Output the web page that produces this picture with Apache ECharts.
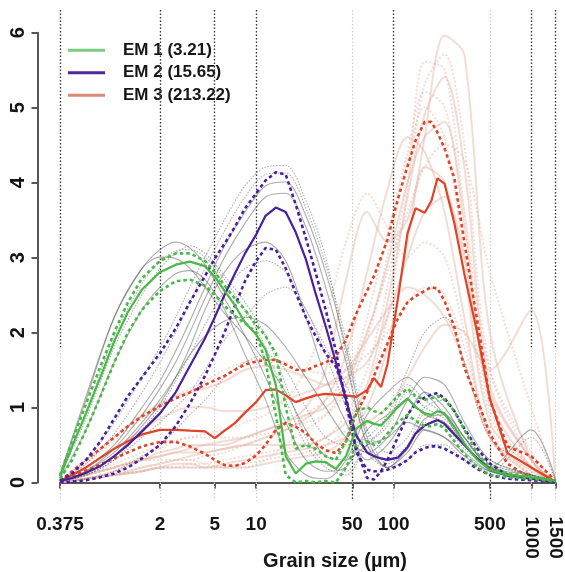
<!DOCTYPE html>
<html><head><meta charset="utf-8">
<script src="https://cdn.jsdelivr.net/npm/echarts@6/dist/echarts.min.js"></script>
<style>html,body{margin:0;padding:0;background:#fff}#c{width:565px;height:572px}</style>
</head><body><div id="c"></div>
<script>
// grain-size classes (µm) for the end-member curves
const sizes = [0.375, 0.46, 0.58, 0.74, 0.93, 1.17, 1.48, 2, 2.6, 3.3, 4.25, 5, 5.9, 7, 8.3, 10, 11.7, 13.9, 16.4, 19.4, 23, 27, 32, 38, 45, 53.5, 64, 72, 81, 90, 107, 126, 144, 168, 188, 208, 234, 276, 326, 405, 500, 672, 1000, 1500];
const em1   = [0.08, 0.48, 0.92, 1.41, 1.88, 2.27, 2.57, 2.8, 2.9, 2.94, 2.88, 2.74, 2.55, 2.36, 2.13, 1.97, 1.77, 1.3, 0.35, 0.12, 0.25, 0.28, 0.27, 0.18, 0.35, 0.72, 0.82, 0.78, 0.76, 0.85, 1.0, 1.12, 1.0, 0.92, 0.9, 0.95, 0.92, 0.74, 0.52, 0.3, 0.17, 0.1, 0.07, 0.02];
const em1Hi = [0.1, 0.55, 1.05, 1.55, 2.0, 2.4, 2.72, 2.95, 3.05, 3.05, 2.95, 2.8, 2.62, 2.45, 2.3, 2.1, 1.95, 1.72, 1.0, 0.45, 0.5, 0.45, 0.35, 0.3, 0.55, 0.95, 1.0, 0.95, 0.92, 1.0, 1.15, 1.25, 1.15, 1.1, 1.12, 1.15, 1.1, 0.95, 0.7, 0.38, 0.2, 0.12, 0.08, 0.03];
const em1Lo = [0.05, 0.3, 0.7, 1.15, 1.6, 2.0, 2.3, 2.55, 2.68, 2.7, 2.62, 2.5, 2.35, 2.22, 2.12, 2.0, 1.6, 0.9, 0.1, 0.0, 0.02, 0.0, 0.02, 0.0, 0.2, 0.5, 0.55, 0.5, 0.55, 0.65, 0.8, 0.9, 0.82, 0.75, 0.75, 0.78, 0.72, 0.55, 0.38, 0.2, 0.1, 0.07, 0.05, 0.01];
const em2   = [0.02, 0.06, 0.13, 0.22, 0.35, 0.5, 0.68, 0.92, 1.2, 1.55, 1.92, 2.2, 2.5, 2.78, 3.05, 3.3, 3.55, 3.66, 3.6, 3.33, 2.97, 2.52, 2.08, 1.6, 1.1, 0.62, 0.4, 0.35, 0.32, 0.3, 0.33, 0.47, 0.65, 0.76, 0.8, 0.83, 0.78, 0.64, 0.5, 0.32, 0.17, 0.09, 0.06, 0.01];
const em2Hi = [0.03, 0.12, 0.3, 0.55, 0.85, 1.15, 1.4, 1.72, 2.05, 2.4, 2.75, 2.98, 3.18, 3.4, 3.65, 3.85, 4.02, 4.13, 4.1, 3.7, 3.25, 2.8, 2.3, 1.75, 1.05, 0.45, 0.06, 0.04, 0.15, 0.3, 0.6, 0.9, 1.05, 1.13, 1.17, 1.19, 1.12, 0.95, 0.72, 0.45, 0.25, 0.1, 0.05, 0.01];
const em2Lo = [0.0, 0.01, 0.03, 0.07, 0.12, 0.2, 0.32, 0.5, 0.75, 1.05, 1.42, 1.7, 2.0, 2.35, 2.68, 2.95, 3.12, 3.1, 2.85, 2.52, 2.2, 1.95, 1.72, 1.54, 1.15, 0.4, 0.17, 0.15, 0.15, 0.17, 0.22, 0.3, 0.4, 0.46, 0.48, 0.48, 0.45, 0.38, 0.3, 0.18, 0.1, 0.05, 0.03, 0.0];
const em3   = [0.02, 0.1, 0.2, 0.33, 0.45, 0.55, 0.64, 0.7, 0.7, 0.69, 0.68, 0.59, 0.69, 0.79, 0.93, 1.07, 1.23, 1.24, 1.16, 1.07, 1.12, 1.16, 1.18, 1.17, 1.16, 1.14, 1.23, 1.39, 1.27, 1.57, 2.43, 3.32, 3.65, 3.59, 3.75, 4.05, 3.98, 3.45, 2.78, 1.99, 1.12, 0.39, 0.2, 0.01];
const em3Hi = [0.02, 0.15, 0.3, 0.45, 0.6, 0.75, 0.88, 1.02, 1.12, 1.2, 1.3, 1.36, 1.42, 1.5, 1.57, 1.61, 1.63, 1.63, 1.57, 1.5, 1.49, 1.55, 1.6, 1.68, 1.9, 2.25, 2.55, 2.75, 3.0, 3.23, 3.77, 4.21, 4.55, 4.8, 4.8, 4.66, 4.45, 4.05, 3.2, 2.15, 1.1, 0.48, 0.35, 0.02];
const em3Lo = [0.02, 0.08, 0.16, 0.24, 0.32, 0.4, 0.48, 0.54, 0.54, 0.48, 0.38, 0.3, 0.23, 0.22, 0.26, 0.36, 0.5, 0.7, 0.79, 0.74, 0.66, 0.52, 0.43, 0.39, 0.55, 0.92, 1.2, 1.42, 1.65, 1.85, 2.18, 2.4, 2.48, 2.55, 2.6, 2.58, 2.42, 2.07, 1.53, 1.1, 0.65, 0.25, 0.05, 0.01];

// coarser classes for the faint sample curves
const bgSizes = [0.375, 0.58, 0.93, 1.48, 2, 2.6, 3.3, 4.25, 5.9, 8.3, 11.7, 16.4, 23, 32, 45, 64, 90, 126, 168, 234, 326, 500, 1000, 1500];
const grey1  = [0.1, 1.15, 2.2, 2.85, 3.1, 3.2, 3.12, 2.9, 2.45, 1.95, 1.4, 0.8, 0.3, 0.15, 0.2, 0.7, 0.9, 1.1, 0.9, 0.8, 0.5, 0.2, 0.1, 0.02];
const grey2  = [0.08, 0.95, 1.95, 2.65, 2.95, 3.08, 3.1, 3.0, 2.7, 2.3, 1.8, 1.1, 0.5, 0.2, 0.1, 0.5, 0.8, 1.3, 1.1, 0.9, 0.6, 0.25, 0.1, 0.02];
const grey3  = [0.05, 0.7, 1.6, 2.3, 2.6, 2.78, 2.82, 2.7, 2.3, 1.7, 1.1, 0.4, 0.1, 0.05, 0.3, 0.9, 1.2, 1.4, 1.2, 0.9, 0.5, 0.2, 0.7, 0.05];
const grey4  = [0.02, 0.3, 0.8, 1.4, 1.8, 2.2, 2.6, 3.0, 3.5, 3.95, 4.2, 4.22, 3.75, 3.0, 1.7, 0.5, 0.3, 0.5, 0.9, 0.8, 0.5, 0.2, 0.05, 0.0];
const grey5  = [0.02, 0.2, 0.5, 1.0, 1.35, 1.75, 2.15, 2.6, 3.15, 3.6, 3.95, 4.0, 3.55, 2.8, 1.8, 0.6, 0.2, 0.4, 0.7, 0.6, 0.4, 0.15, 0.05, 0.0];
const grey6  = [0.01, 0.1, 0.3, 0.7, 1.0, 1.35, 1.7, 2.1, 2.55, 2.85, 2.95, 2.8, 2.3, 1.8, 1.3, 0.7, 0.4, 0.6, 1.0, 1.1, 0.7, 0.3, 0.1, 0.0];
const grey7  = [0.01, 0.15, 0.4, 0.8, 1.1, 1.4, 1.7, 1.95, 2.15, 2.2, 2.1, 1.8, 1.4, 1.0, 0.6, 0.4, 0.6, 1.1, 1.4, 1.3, 0.8, 0.3, 0.1, 0.0];
const grey8  = [0.0, 0.05, 0.15, 0.35, 0.5, 0.7, 0.9, 1.1, 1.4, 1.6, 1.7, 1.5, 1.0, 0.6, 0.5, 0.6, 0.9, 1.5, 2.0, 2.2, 1.6, 0.6, 0.2, 0.0];
const grey9  = [0.1, 1.1, 2.2, 2.85, 3.0, 2.98, 2.85, 2.6, 2.25, 1.95, 1.6, 1.2, 0.7, 0.35, 0.3, 0.5, 0.6, 0.8, 0.7, 0.6, 0.35, 0.15, 0.05, 0.0];
const grey10 = [0.02, 0.1, 0.3, 0.6, 0.8, 1.0, 1.2, 1.5, 1.9, 2.2, 2.5, 2.6, 2.3, 1.7, 1.0, 0.4, 0.2, 0.3, 0.5, 0.5, 0.3, 0.15, 0.6, 0.02];
const grey11 = [0.01, 0.12, 0.35, 0.75, 1.05, 1.4, 1.8, 2.3, 2.8, 3.1, 3.2, 2.95, 2.2, 1.4, 0.8, 0.3, 0.5, 0.9, 1.2, 1.0, 0.6, 0.2, 0.05, 0.0];
const grey12 = [0.02, 0.25, 0.65, 1.2, 1.6, 2.0, 2.4, 2.85, 3.35, 3.8, 4.1, 4.12, 3.65, 2.9, 1.9, 0.7, 0.25, 0.45, 0.8, 0.75, 0.45, 0.2, 0.05, 0.0];
const grey13 = [0.01, 0.15, 0.45, 0.9, 1.25, 1.6, 2.0, 2.45, 3.0, 3.45, 3.8, 3.85, 3.4, 2.6, 1.6, 0.5, 0.2, 0.45, 0.85, 0.9, 0.6, 0.2, 0.05, 0.0];
const grey14 = [0.08, 0.85, 1.8, 2.5, 2.85, 3.05, 3.15, 3.05, 2.75, 2.4, 1.95, 1.3, 0.6, 0.25, 0.15, 0.5, 0.75, 1.2, 1.0, 0.85, 0.55, 0.25, 0.1, 0.02];
const pink1  = [0.0, 0.05, 0.1, 0.15, 0.2, 0.25, 0.25, 0.2, 0.2, 0.2, 0.25, 0.3, 0.35, 0.4, 0.6, 1.0, 1.8, 3.2, 4.6, 5.95, 5.7, 2.0, 0.3, 0.0];
const pink2  = [0.0, 0.05, 0.1, 0.15, 0.2, 0.2, 0.2, 0.2, 0.2, 0.25, 0.3, 0.35, 0.4, 0.5, 0.7, 1.2, 2.2, 3.9, 5.6, 5.5, 3.6, 1.0, 0.2, 0.0];
const pink3  = [0.0, 0.1, 0.2, 0.3, 0.35, 0.4, 0.4, 0.4, 0.45, 0.5, 0.5, 0.5, 0.5, 0.6, 0.8, 1.3, 2.4, 3.8, 4.9, 5.4, 4.2, 1.3, 0.3, 0.0];
const pink4  = [0.0, 0.1, 0.25, 0.4, 0.5, 0.55, 0.6, 0.6, 0.6, 0.6, 0.65, 0.7, 0.8, 0.9, 1.2, 1.9, 3.0, 4.3, 5.0, 4.6, 3.0, 0.9, 0.2, 0.0];
const pink5  = [0.0, 0.05, 0.15, 0.3, 0.4, 0.45, 0.5, 0.5, 0.5, 0.6, 0.7, 0.8, 1.0, 1.5, 2.7, 3.6, 3.2, 3.5, 4.2, 4.0, 2.8, 0.8, 0.2, 0.0];
const pink6  = [0.0, 0.1, 0.2, 0.35, 0.45, 0.55, 0.6, 0.65, 0.7, 0.8, 0.9, 1.1, 1.5, 2.2, 3.2, 3.85, 3.4, 3.0, 3.2, 3.0, 2.0, 0.6, 0.1, 0.0];
const pink7  = [0.02, 0.3, 0.6, 0.9, 1.05, 1.15, 1.2, 1.25, 1.35, 1.5, 1.55, 1.5, 1.4, 1.3, 1.4, 1.6, 2.2, 3.0, 3.6, 3.8, 3.0, 1.2, 0.3, 0.0];
const pink8  = [0.0, 0.1, 0.2, 0.3, 0.3, 0.3, 0.3, 0.25, 0.2, 0.2, 0.3, 0.5, 0.7, 0.9, 1.3, 2.2, 3.3, 4.4, 5.2, 5.0, 3.6, 1.5, 0.4, 0.0];
const pink9  = [0.0, 0.2, 0.45, 0.7, 0.85, 0.95, 1.0, 1.0, 0.95, 0.95, 1.0, 1.1, 1.2, 1.3, 1.5, 1.9, 2.3, 2.6, 2.5, 2.2, 1.6, 0.6, 0.15, 0.0];
const pink10 = [0.0, 0.05, 0.1, 0.2, 0.25, 0.3, 0.3, 0.35, 0.4, 0.5, 0.6, 0.7, 0.9, 1.1, 1.4, 2.0, 2.8, 3.6, 4.2, 4.5, 4.3, 2.8, 1.0, 0.0];
const pink11 = [0.0, 0.05, 0.1, 0.2, 0.25, 0.3, 0.35, 0.4, 0.45, 0.5, 0.6, 0.7, 0.85, 1.1, 1.7, 2.8, 3.9, 4.6, 4.4, 3.6, 2.2, 0.6, 0.1, 0.0];
const pink12 = [0.0, 0.25, 0.55, 0.85, 1.0, 1.15, 1.25, 1.35, 1.5, 1.6, 1.65, 1.6, 1.5, 1.45, 1.5, 1.7, 2.0, 2.4, 2.6, 2.5, 1.8, 0.7, 0.1, 0.0];
const pink13 = [0.0, 0.05, 0.1, 0.15, 0.2, 0.2, 0.2, 0.2, 0.25, 0.3, 0.35, 0.4, 0.45, 0.5, 0.6, 0.8, 1.0, 1.4, 1.8, 2.1, 2.0, 1.5, 2.3, 0.0];
const pink14 = [0.0, 0.05, 0.1, 0.15, 0.2, 0.2, 0.25, 0.25, 0.3, 0.35, 0.4, 0.45, 0.5, 0.6, 0.9, 1.5, 2.6, 4.0, 5.3, 5.7, 4.5, 1.5, 0.3, 0.0];
const pink15 = [0.0, 0.1, 0.2, 0.3, 0.35, 0.4, 0.45, 0.5, 0.55, 0.6, 0.7, 0.8, 0.9, 1.0, 1.3, 2.0, 2.9, 4.0, 4.6, 4.8, 3.4, 1.1, 0.2, 0.0];

// axis ticks and labels
const tickValues = [0.375, 2, 5, 10, 50, 100, 500, 1000, 1500];
const flatTickLabels = [0.375, 2, 5, 10, 50, 100, 500];
const rotatedTickLabels = [1000, 1500];
const darkGuideTop = [0.375, 2, 5, 10, 100, 1000, 1500];
const darkGuideBottom = [50, 500];
const legendNames = ['EM 1 (3.21)', 'EM 2 (15.65)', 'EM 3 (213.22)'];

const greyLines = [grey1, grey2, grey3, grey4, grey5, grey6, grey7, grey8, grey9, grey10, grey11, grey12, grey13, grey14];
const pinkLines = [pink1, pink2, pink3, pink4, pink5, pink6, pink7, pink8, pink9, pink10, pink11, pink12, pink13, pink14, pink15];

const FONT = '"Liberation Sans", Arial, Helvetica, sans-serif';
const TXT = '#151515';
const GREEN = '#47b947', PURPLE = '#4a1f9e', RED = '#df4428';
const Y_MIN = -0.24, Y_MAX = 6.29;
const pair = (xs, ys) => xs.map((x, i) => [x, ys[i]]);

const series = [];
const guides = [];
tickValues.forEach(v => guides.push([
  {coord: [v, Y_MAX], lineStyle: {color: '#cdcdcd', type: [1.5, 2], width: 1.2}},
  {coord: [v, Y_MIN]}]));
darkGuideTop.forEach(v => guides.push([
  {coord: [v, Y_MAX], lineStyle: {color: '#3a3a3a', type: [1.5, 2], width: 1.3}},
  {coord: [v, 1.8]}]));
darkGuideBottom.forEach(v => guides.push([
  {coord: [v, 0.5], lineStyle: {color: '#3a3a3a', type: [1.5, 2], width: 1.3}},
  {coord: [v, Y_MIN]}]));
series.push({
  type: 'line', name: 'guides', data: [], z: 1, silent: true,
  markLine: {symbol: ['none', 'none'], silent: true, label: {show: false}, animation: false, data: guides}
});
pinkLines.forEach((ys, i) => series.push({
  type: 'line', name: 'pink' + i, data: pair(bgSizes, ys), z: 2, silent: true,
  showSymbol: false, symbol: 'none', smooth: 0.3,
  lineStyle: {color: 'rgba(226,180,163,0.45)', width: 2, type: i % 2 ? [2, 2] : 'solid'}
}));
greyLines.forEach((ys, i) => series.push({
  type: 'line', name: 'grey' + i, data: pair(bgSizes, ys), z: 3, silent: true,
  showSymbol: false, symbol: 'none', smooth: 0.3,
  lineStyle: {color: 'rgba(70,70,70,0.45)', width: 1.1, type: i % 2 ? [1.5, 1.5] : 'solid'}
}));
const main = [
  [em3Lo, RED, true, null], [em3Hi, RED, true, null], [em3, RED, false, legendNames[2]],
  [em2Lo, PURPLE, true, null], [em2Hi, PURPLE, true, null], [em2, PURPLE, false, legendNames[1]],
  [em1Lo, GREEN, true, null], [em1Hi, GREEN, true, null], [em1, GREEN, false, legendNames[0]]
];
main.forEach(([ys, col, dotted, name], i) => series.push({
  type: 'line', name: name || ('bound' + i), data: pair(sizes, ys), z: 5, silent: true,
  showSymbol: false, symbol: 'none',
  itemStyle: {color: col},
  lineStyle: {color: col, width: dotted ? 2.6 : 2.2, type: dotted ? [3.5, 3] : 'solid'}
}));
series.push({type: 'line', xAxisIndex: 2, yAxisIndex: 1, data: [], silent: true});

const chart = echarts.init(document.getElementById('c'), null, {renderer: 'canvas'});
chart.setOption({
  animation: false,
  backgroundColor: '#fff',
  textStyle: {fontFamily: FONT},
  title: {
    text: 'Grain size (µm)', left: 330, top: 546, textAlign: 'center',
    textStyle: {fontSize: 20, fontWeight: 'bold', color: TXT, fontFamily: FONT}
  },
  legend: {
    orient: 'vertical', left: 63, top: 34, icon: 'rect', itemWidth: 37, itemHeight: 3,
    itemGap: 0, selectedMode: false,
    data: [
      {name: legendNames[0], itemStyle: {color: '#7ccc7c'}},
      {name: legendNames[1], itemStyle: {color: '#4a2a9c'}},
      {name: legendNames[2], itemStyle: {color: '#d98a72'}}
    ],
    textStyle: {fontSize: 17, fontWeight: 'bold', color: TXT, lineHeight: 22.5, padding: [0, 0, 0, 13], fontFamily: FONT}
  },
  grid: [
    {left: 60, right: 9, top: 10, bottom: 71.5},
    {left: 37.5, width: 2, top: 32.7, height: 449.8}
  ],
  xAxis: [
    {
      type: 'log', logBase: 10, gridIndex: 0, min: 0.375, max: 1500, position: 'bottom', offset: 2,
      axisLine: {show: true, lineStyle: {color: '#555', width: 2}},
      axisTick: {show: true, customValues: tickValues, length: 6, lineStyle: {color: '#555', width: 2}},
      axisLabel: {show: true, customValues: flatTickLabels, fontSize: 19, fontWeight: 'bold', color: TXT, margin: 13, fontFamily: FONT,
        formatter: v => String(v)},
      splitLine: {show: false}, minorTick: {show: false}
    },
    {
      type: 'log', logBase: 10, gridIndex: 0, min: 0.375, max: 1500, position: 'bottom', offset: 2,
      axisLine: {show: false}, axisTick: {show: false},
      axisLabel: {show: true, customValues: rotatedTickLabels, rotate: -90, fontSize: 19, fontWeight: 'bold', color: TXT, margin: 14, fontFamily: FONT,
        formatter: v => String(v)},
      splitLine: {show: false}
    },
    {type: 'value', gridIndex: 1, show: false, min: 0, max: 1}
  ],
  yAxis: [
    {type: 'value', gridIndex: 0, min: Y_MIN, max: Y_MAX, show: false},
    {
      type: 'value', gridIndex: 1, min: 0, max: 6, interval: 1,
      axisLine: {show: true, lineStyle: {color: '#555', width: 2}},
      axisTick: {show: true, length: 6, lineStyle: {color: '#555', width: 2}},
      axisLabel: {show: true, rotate: 90, fontSize: 20, fontWeight: 'bold', color: TXT, margin: 9, fontFamily: FONT},
      splitLine: {show: false}
    }
  ],
  series: series
});
</script></body></html>
